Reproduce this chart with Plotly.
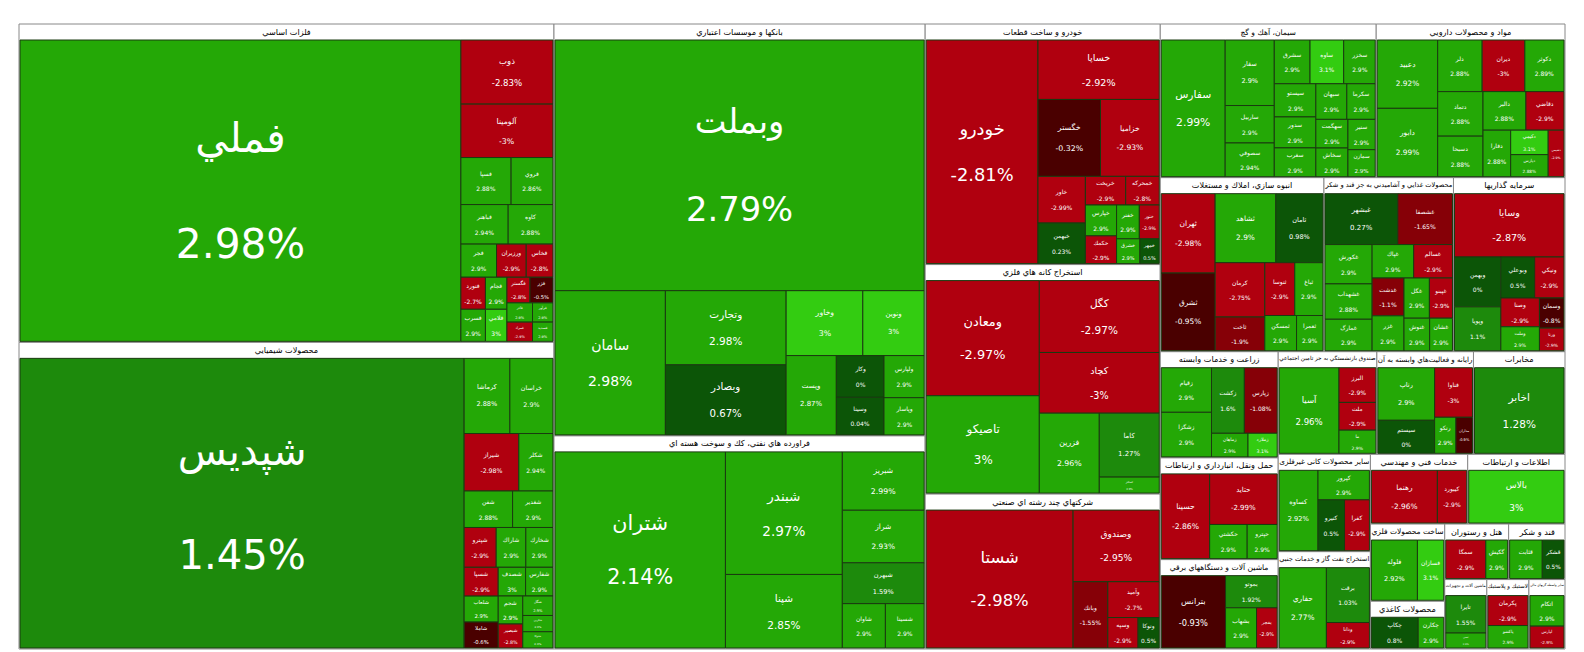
import math
import plotly.graph_objects as go

# sectors (top level tiles)
sectors = [
    "فلزات اساسي", "محصولات شيميايي", "بانكها و موسسات اعتباري",
    "فراورده هاي نفتي، كك و سوخت هسته اي", "خودرو و ساخت قطعات",
    "استخراج كانه هاي فلزي", "سيمان، آهك و گچ", "محصولات غذايي و آشاميدني به جز قند و شكر",
    "شركتهاي چند رشته اي صنعتي", "مواد و محصولات دارويي", "سرمايه گذاريها",
    "انبوه سازي، املاك و مستغلات", "زراعت و خدمات وابسته", "رايانه و فعاليت‌هاي وابسته به آن",
    "ماشين آلات و دستگاههاي برقي", "مخابرات", "استخراج نفت گاز و خدمات جنبي",
    "صندوق بازنشستگي به جز تامين اجتماعي", "سایر محصولات کانی غیرفلزی",
    "حمل ونقل، انبارداري و ارتباطات", "خدمات فني و مهندسي", "اطلاعات و ارتباطات",
    "ساخت محصولات فلزي", "محصولات كاغذي", "ماشين آلات و تجهيزات",
    "قند و شكر", "هتل و رستوران", "لاستيك و پلاستيك", "ساير واسطه گريهاي مالي",
]

# stocks: name, sector index, size (market value, relative), change %
stock_names = [
    "فملي", "ذوب", "آلومينا", "فسپا", "فروي", "فباهنر", "كاوه", "فجر", "ورزيران", "فخاس",
    "فنورد", "فسرب", "فجام", "فلامي", "فگستر", "فزر", "فاذر", "فمراد", "فرآور", "فسديد",
    "شپديس", "كرماشا", "خراسان", "شيراز", "شكلر", "شفن", "شغدير", "شپترو", "شاراك", "شخارك",
    "شسپا", "شلعاب", "شاملا", "شصدف", "شفارس", "شجم", "شبصير", "شگل", "شكربن", "شتوكا",
    "وبملت", "سامان", "وتجارت", "وبصادر", "وخاور", "ونوين", "وپست", "وكار", "وسينا", "ولپارس", "وپاسار",
    "شتران", "شبندر", "شپنا", "شبريز", "شراز", "شبهرن", "شاوان", "شسينا",
    "خودرو", "خساپا", "خگستر", "خزاميا", "خاور", "خبهمن", "خريخت", "خمحركه", "خپارس", "خكمك", "خفنر", "ختور", "خشرق", "خمهر",
    "ومعادن", "تاصيكو", "فزرين", "كچاد", "كگل", "كاما", "كمنگنز",
    "سفارس", "سفار", "ساربيل", "سصوفي", "سشرق", "ساوه", "سخزر", "سيستو", "سدور", "سغرب", "سبهان", "سكرما", "سهگمت", "سخاش", "سنير", "سمازن",
    "غبشهر", "غشصفا", "غكورش", "غشهداب", "غمارگ", "غپاك", "غسالم", "غدشت", "غزر", "غگل", "غپينو", "غنوش", "غشان",
    "شستا", "وصندوق", "وبانك", "وآميد", "وسپه", "وتوكا",
    "دعبيد", "دابور", "دلر", "ديران", "دكوثر", "دتماد", "دسبحا", "دالبر", "دقاضي", "دفارا", "دكيمي", "دپارس", "دشيمي",
    "وسايا", "وبهمن", "وپويا", "وبوعلي", "ونيكي", "وصنا", "وملت", "وسمان", "ورنا",
    "ثهران", "ثشرق", "ثشاهد", "ثامان", "ثاخت", "ثنوسا", "ثباغ", "كرمان", "ثمسكن", "ثعمرا",
    "زقيام", "زشگزا", "زكشت", "زپارس", "زماهان", "زملارد",
    "رتاپ", "سيستم", "فناوا", "رتكو", "مداران",
    "بترانس", "بموتو", "بشهاب", "بفجر",
    "اخابر",
    "حفاري", "برقت", "ودانا",
    "آسيا", "البرز", "ملت", "ما",
    "كساوه", "كپرور", "كنيرو", "كفرا",
    "حسينا", "حتايد", "حكشتي", "حپترو",
    "رهنما", "كيبورد",
    "بالاس",
    "فلوله", "فسازان",
    "چكاپ", "چكارن",
    "تايرا", "تپمپي",
    "قثابت", "قشكر",
    "سمگا", "گكيش",
    "پكرمان", "پاكشو",
    "اتكام", "لپارس",
]
stock_sector = [
    0, 0, 0, 0, 0, 0, 0, 0, 0, 0, 0, 0, 0, 0, 0, 0, 0, 0, 0, 0,
    1, 1, 1, 1, 1, 1, 1, 1, 1, 1, 1, 1, 1, 1, 1, 1, 1, 1, 1, 1,
    2, 2, 2, 2, 2, 2, 2, 2, 2, 2, 2,
    3, 3, 3, 3, 3, 3, 3, 3,
    4, 4, 4, 4, 4, 4, 4, 4, 4, 4, 4, 4, 4, 4,
    5, 5, 5, 5, 5, 5, 5,
    6, 6, 6, 6, 6, 6, 6, 6, 6, 6, 6, 6, 6, 6, 6, 6,
    7, 7, 7, 7, 7, 7, 7, 7, 7, 7, 7, 7, 7,
    8, 8, 8, 8, 8, 8,
    9, 9, 9, 9, 9, 9, 9, 9, 9, 9, 9, 9, 9,
    10, 10, 10, 10, 10, 10, 10, 10, 10,
    11, 11, 11, 11, 11, 11, 11, 11, 11, 11,
    12, 12, 12, 12, 12, 12,
    13, 13, 13, 13, 13,
    14, 14, 14, 14,
    15,
    16, 16, 16,
    17, 17, 17, 17,
    18, 18, 18, 18,
    19, 19, 19, 19,
    20, 20,
    21,
    22, 22,
    23, 23,
    24, 24,
    25, 25,
    26, 26,
    27, 27,
    28, 28,
]
stock_size = [
    135, 6, 5, 2.4, 2, 1.9, 1.8, 1.2, 1.0, 0.9, 0.8, 0.8, 0.7, 0.7, 0.6, 0.6, 0.5, 0.5, 0.4, 0.4,
    131, 3.5, 3.3, 3.2, 2.0, 1.8, 1.5, 1.3, 1.2, 1.1, 1.0, 0.9, 0.9, 0.8, 0.8, 0.7, 0.6, 0.6, 0.5, 0.5,
    93, 16, 9, 8.5, 5, 4, 4, 2, 1.8, 1.7, 1.5,
    35, 15, 9, 5, 4.5, 3.5, 2, 1.8,
    26, 7.5, 5, 4.7, 2.3, 2, 1.2, 1.0, 1.0, 0.9, 0.8, 0.7, 0.6, 0.5,
    13.6, 11.5, 5, 7.6, 9, 4, 1,
    9.5, 3.5, 2, 1.8, 1.7, 1.6, 1.5, 1.5, 1.4, 1.3, 1.2, 1.1, 1.0, 1.0, 0.9, 0.8,
    4, 3, 2, 1.8, 1.6, 1.5, 1.4, 1.3, 1.2, 1.1, 1.0, 0.9, 0.8,
    22, 6.7, 2.5, 2, 1.0, 0.7,
    4.5, 4.5, 2.5, 2.4, 2.2, 2.2, 2.0, 1.8, 1.6, 1.4, 1.0, 0.9, 0.8,
    7.5, 2.5, 2.2, 1.5, 1.3, 1.2, 1.0, 0.8, 0.6,
    4.6, 4.5, 4.5, 3.5, 1.8, 1.7, 1.6, 2.9, 1.2, 1.0,
    2.6, 2.6, 2.5, 2.5, 1.0, 0.8,
    3.5, 2.2, 2.2, 0.9, 0.7,
    5.6, 2.0, 1.5, 1.0,
    9,
    4.5, 2.8, 1.3,
    6, 1.5, 1.2, 1.0,
    3.7, 1.8, 1.6, 1.5,
    4.8, 4.0, 1.5, 1.2,
    4.5, 2,
    6.5,
    3.5, 2,
    2.2, 1.2,
    2, 0.8,
    1.8, 1.2,
    2.2, 1.2,
    1.6, 1.2,
    1.4, 1.0,
]
stock_change = [
    2.98, -2.83, -3, 2.88, 2.86, 2.94, 2.88, 2.9, -2.9, -2.8,
    -2.7, 2.9, 2.9, 3, -2.8, -0.5, 2.9, -2.9, 2.9, 2.9,
    1.45, 2.88, 2.9, -2.98, 2.94, 2.88, 2.9, -2.9, 2.9, 2.9,
    -2.9, 2.9, -0.6, 3, 2.9, 2.9, -2.8, 2.9, 2.9, 2.9,
    2.79, 2.98, 2.98, 0.67, 3, 3, 2.87, 0, 0.04, 2.9, 2.9,
    2.14, 2.97, 2.85, 2.99, 2.93, 1.59, 2.9, 2.9,
    -2.81, -2.92, -0.32, -2.93, -2.99, 0.23, -2.9, -2.8, 2.9, -2.9, 2.9, -2.9, 2.9, 0.5,
    -2.97, 3, 2.96, -3, -2.97, 1.27, 2.9,
    2.99, 2.9, 2.9, 2.94, 2.9, 3.1, 2.9, 2.9, 2.9, 2.9, 2.9, 2.9, 2.9, 2.9, 2.9, 2.9,
    0.27, -1.65, 2.9, 2.88, 2.9, 2.9, -2.9, -1.1, 2.9, 2.9, -2.9, 2.9, 2.9,
    -2.98, -2.95, -1.55, -2.7, -2.9, 0.5,
    2.92, 2.99, 2.88, -3, 2.89, 2.88, 2.88, 2.88, -2.9, 2.88, 3.1, 2.88, -2.9,
    -2.87, 0, 1.1, 0.5, -2.9, -2.9, 2.9, -0.8, -2.9,
    -2.98, -0.95, 2.9, 0.98, -1.9, -2.9, 2.9, -2.75, 2.9, 2.9,
    2.9, 2.9, 1.6, -1.08, 2.9, 3.1,
    2.9, 0, -3, 2.9, -0.9,
    -0.93, 1.92, 2.9, -2.9,
    1.28,
    2.77, 1.03, -2.9,
    2.96, -2.9, -2.9, 2.9,
    2.92, 2.9, 0.5, -2.9,
    -2.86, -2.99, 2.9, 2.9,
    -2.96, -2.9,
    3,
    2.92, 3.1,
    0.8, 2.9,
    1.55, 2.9,
    2.9, 0.5,
    -2.9, 2.9,
    -2.9, 2.9,
    2.9, -2.9,
]
bright = {"وخاور", "ونوين", "ساوه", "فلامي", "بالاس", "فسازان", "دكيمي", "زملارد"}


def tile_color(name, c):
    if name in bright:
        return "#33cc11"
    if c >= 2:
        return "#24a806"
    if c >= 1:
        return "#1d8a0c"
    if c >= 0:
        return "#0c5507"
    if c > -1:
        return "#4a0000"
    if c > -2:
        return "#860007"
    return "#b0000f"


ids, labels, parents, values, colors, texts = [], [], [], [], [], []
line_colors, font_colors, font_sizes = [], [], []
for s in sectors:
    ids.append("s:" + s)
    labels.append(s)
    parents.append("")
    values.append(0)
    colors.append("white")
    texts.append("")
    line_colors.append("#888888")
    font_colors.append("black")
    font_sizes.append(13)

for n, si, v, c in zip(stock_names, stock_sector, stock_size, stock_change):
    ids.append(n)
    labels.append(n)
    parents.append("s:" + sectors[si])
    values.append(v)
    colors.append(tile_color(n, c))
    texts.append(f"{c:g}%")
    line_colors.append("#1a3a10")
    font_colors.append("white")
    font_sizes.append(max(6, min(44, math.sqrt(v) * 3.5)))

fig = go.Figure(go.Treemap(
    ids=ids,
    labels=labels,
    parents=parents,
    values=values,
    text=texts,
    texttemplate="%{label}<br><br>%{text}",
    textposition="middle center",
    textfont=dict(family="DejaVu Sans", color=font_colors, size=font_sizes),
    marker=dict(colors=colors, line=dict(color=line_colors, width=1),
                pad=dict(t=16, l=1, r=1, b=1)),
    tiling=dict(packing="squarify", pad=0),
    pathbar=dict(visible=False),
    hoverinfo="label+text",
    root=dict(color="white"),
))
fig.update_layout(
    width=1584, height=652,
    margin=dict(l=10, r=26, t=0, b=10),
    paper_bgcolor="white",
    font=dict(family="DejaVu Sans", color="white"),
)
fig.write_html("out.html")
